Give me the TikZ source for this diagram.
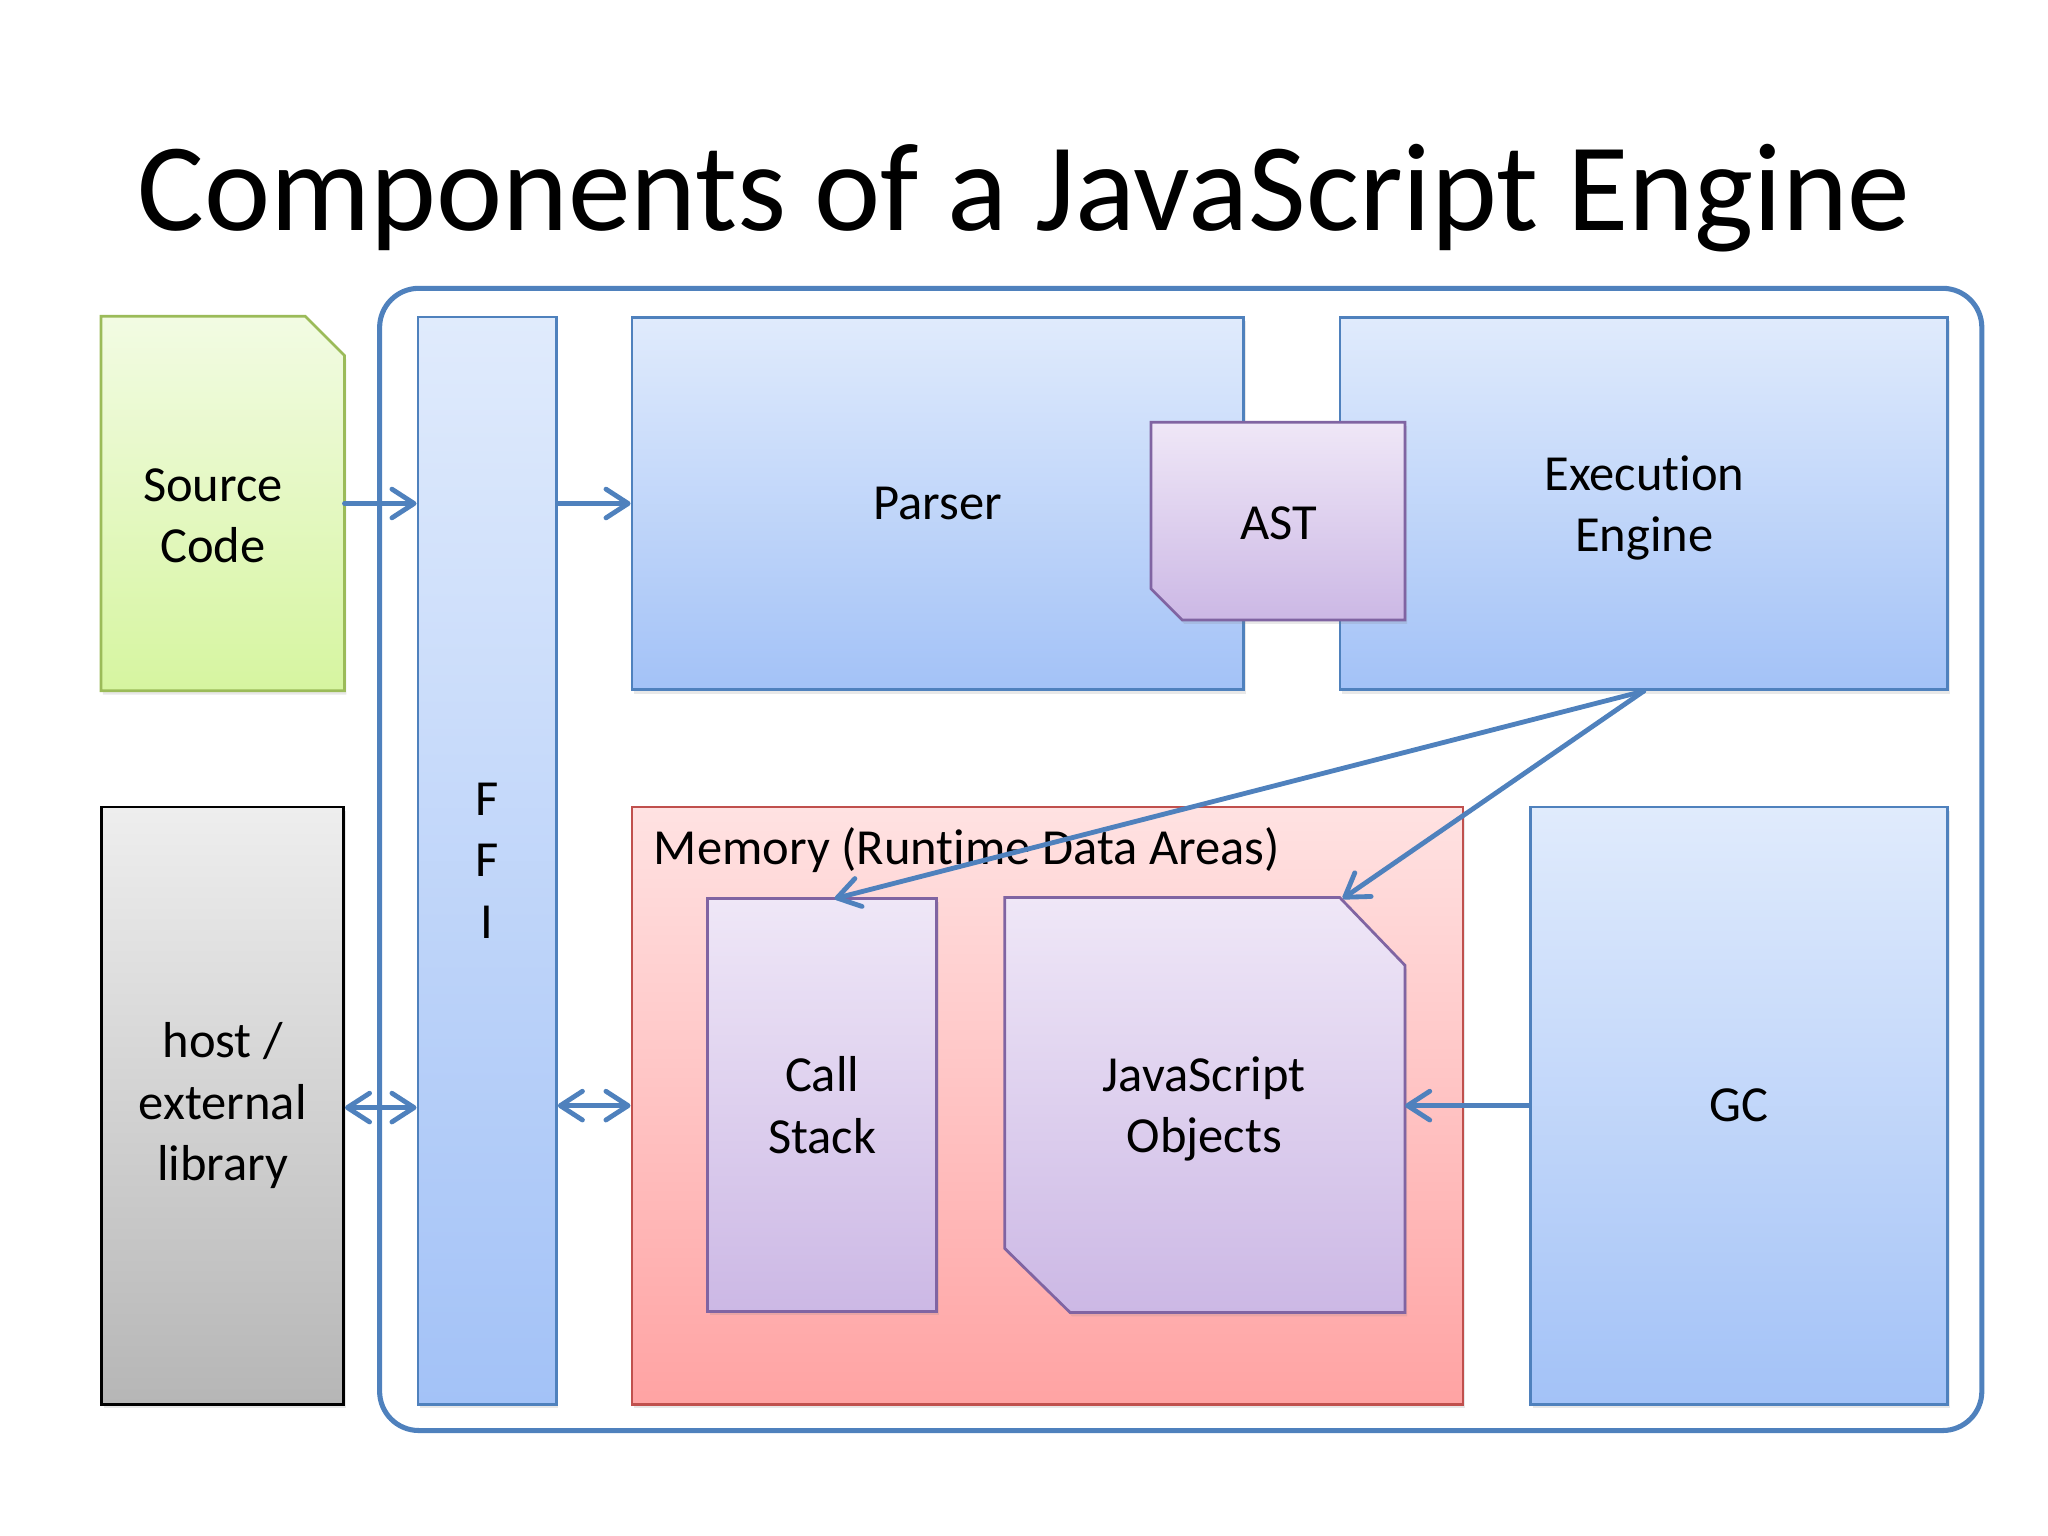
\documentclass[tikz,border=0pt]{standalone}
\usepackage{fontspec}
\setmainfont{Carlito}[Ligatures={NoCommon,NoRare}, Contextuals=NoAlternate]
\usetikzlibrary{arrows.meta, shadows, calc, positioning}
\definecolor{lineBlue}{RGB}{79,129,189}
\definecolor{blueTop}{RGB}{224,235,252}
\definecolor{blueBot}{RGB}{163,194,247}
\definecolor{greenLine}{RGB}{155,187,89}
\definecolor{greenTop}{RGB}{242,251,227}
\definecolor{greenBot}{RGB}{214,245,160}
\definecolor{grayTop}{RGB}{238,238,238}
\definecolor{grayBot}{RGB}{182,182,182}
\definecolor{redLine}{RGB}{192,80,77}
\definecolor{redTop}{RGB}{255,226,226}
\definecolor{redBot}{RGB}{255,163,163}
\definecolor{purpleLine}{RGB}{128,100,162}
\definecolor{purpleTop}{RGB}{239,231,247}
\definecolor{purpleBot}{RGB}{204,184,229}
\tikzset{
    look/.style={draw, line width=0.6pt,
        drop shadow={opacity=0.18, shadow xshift=0.015cm, shadow yshift=-0.03cm}},
    blueLook/.style={look, draw=lineBlue, top color=blueTop, bottom color=blueBot},
    greenLook/.style={look, draw=greenLine, top color=greenTop, bottom color=greenBot},
    grayLook/.style={look, draw=black, top color=grayTop, bottom color=grayBot},
    redLook/.style={look, draw=redLine, top color=redTop, bottom color=redBot},
    purpleLook/.style={look, draw=purpleLine, top color=purpleTop, bottom color=purpleBot},
    box/.style={rectangle, inner sep=0pt, align=center, font=\fontsize{11}{13.4}\selectfont},
    blueBox/.style={box, blueLook},
    grayBox/.style={box, grayLook},
    redBox/.style={box, redLook},
    purpleBox/.style={box, purpleLook},
    engineFrame/.style={draw=lineBlue, line width=1.1pt, rounded corners=0.3cm},
    jsEdge/.style={-{Straight Barb[length=0.17cm, width=0.22cm, round]}, draw=lineBlue, line width=1.05pt, line cap=round},
    jsBoth/.style={{Straight Barb[length=0.17cm, width=0.22cm, round]}-{Straight Barb[length=0.17cm, width=0.22cm, round]}, draw=lineBlue, line width=1.05pt, line cap=round},
}
\newcommand{\chanFlow}[3][jsEdge]{
    \draw[#1] (#2) -- (#3);
}
\begin{document}
\begin{tikzpicture}[x=0.01cm, y=-0.01cm]
    \useasboundingbox (0,0) rectangle (1568,1176);

    \node[font=\fontsize{27.3}{32}\selectfont] (title) at (784,152) {Components of a JavaScript Engine};

    % engine frame
    \node[engineFrame, minimum width=12.26cm, minimum height=8.74cm] (engine) at (904,658) {};

    % source code, cut corner top right
    \node[box, minimum width=1.85cm, minimum height=2.85cm] (src) at (170.5,385.5) {};
    \path[greenLook] (src.north west) -- ($(src.north east)+(-30,0)$) -- ($(src.north east)+(0,30)$)
        -- (src.south east) -- (src.south west) -- cycle;
    \node[box] (srcText) at (163,395) {Source\\Code};

    \node[grayBox, minimum width=1.85cm, minimum height=4.57cm] (host) at (170.5,846.5) {host /\\external\\library};
    \node[blueBox, minimum width=1.06cm, minimum height=8.32cm] (ffi) at (373,659) {F\\F\\I};
    \node[blueBox, minimum width=4.68cm, minimum height=2.85cm] (parser) at (718,385.5) {Parser};
    \node[blueBox, minimum width=4.65cm, minimum height=2.85cm] (exec) at (1258.5,385.5) {};
    \node[box] (execText) at (1259,389) {Execution\\Engine};

    % AST, cut corner bottom left
    \node[box, minimum width=1.93cm, minimum height=1.5cm] (ast) at (978.5,399) {};
    \path[purpleLook] (ast.north west) -- (ast.north east) -- (ast.south east)
        -- ($(ast.south west)+(24,0)$) -- ($(ast.south west)+(0,-24)$) -- cycle;
    \node[box] (astText) at (979,401) {AST};

    \node[redBox, minimum width=6.36cm, minimum height=4.57cm] (mem) at (802,846.5) {};
    \node[anchor=west, inner sep=0pt, font=\fontsize{11}{13.4}\selectfont] (memLabel) at (500,651) {Memory (Runtime Data Areas)};
    \node[purpleBox, minimum width=1.75cm, minimum height=3.16cm] (stack) at (629.5,846) {Call\\Stack};

    % objects, two cut corners
    \node[box, minimum width=3.05cm, minimum height=3.16cm] (objs) at (922.5,846) {};
    \path[purpleLook] (objs.north west) -- ($(objs.north east)+(-50,0)$) -- ($(objs.north east)+(0,52)$)
        -- (objs.south east) -- ($(objs.south west)+(50,0)$) -- ($(objs.south west)+(0,-49)$) -- cycle;
    \node[box] (objsText) at (922,849) {JavaScript\\Objects};

    \node[blueBox, minimum width=3.19cm, minimum height=4.57cm] (gc) at (1331.5,846.5) {GC};

    \coordinate (stackIn) at (639,688);
    \coordinate (objsIn) at (1028,688);

    \chanFlow{src.east}{src.east -| ffi.west}
    \chanFlow{ffi.east |- parser.west}{parser.west}
    \chanFlow[jsBoth]{host.east |- 0,848}{ffi.west |- 0,848}
    \chanFlow[jsBoth]{ffi.east |- mem.west}{mem.west}
    \chanFlow{gc.west}{gc.west -| objs.east}
    \chanFlow{exec.south}{stackIn}
    \chanFlow{exec.south}{objsIn}

\end{tikzpicture}
\end{document}
